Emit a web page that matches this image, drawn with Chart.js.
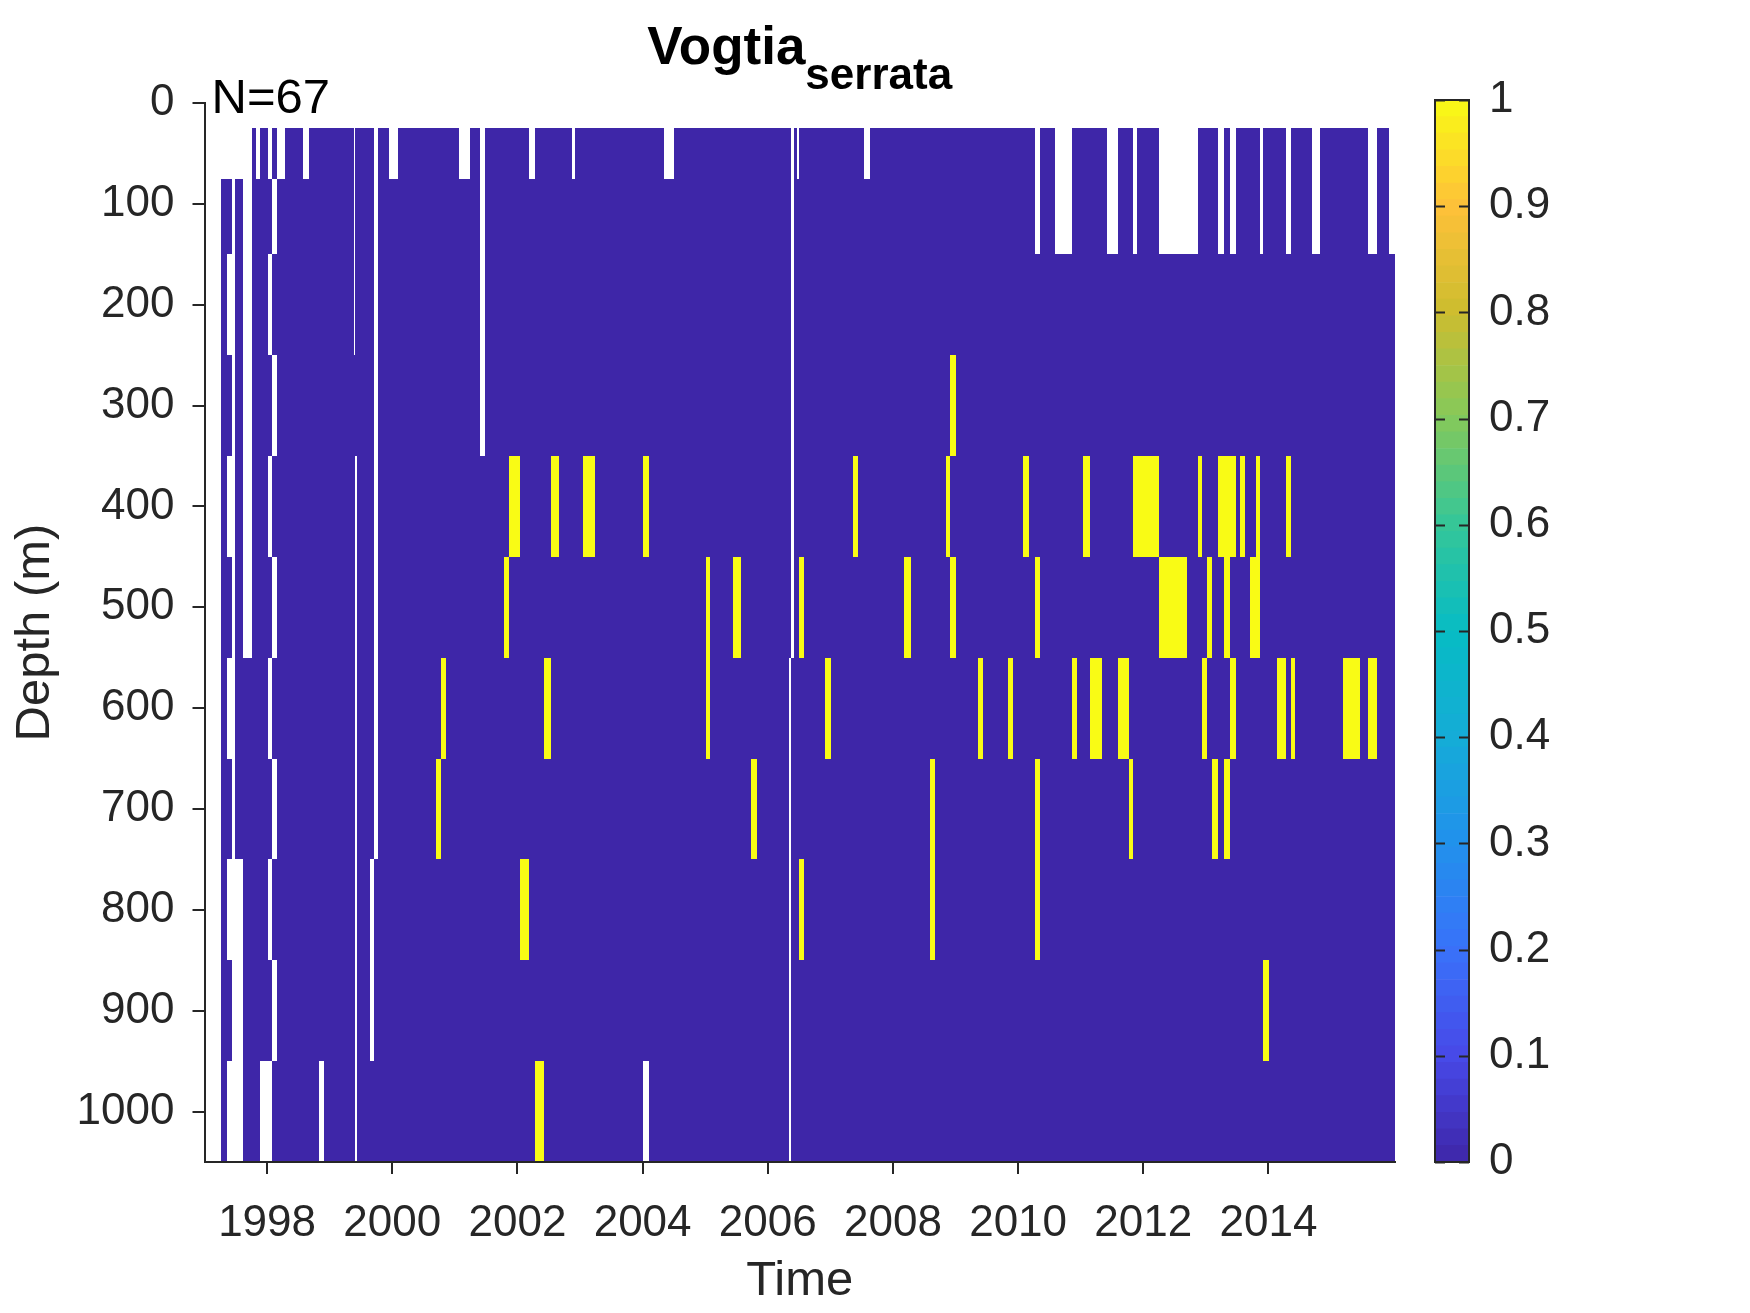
<!DOCTYPE html>
<html>
<head>
<meta charset="utf-8">
<title>Vogtia serrata</title>
<script src="https://cdn.jsdelivr.net/npm/chart.js@4.4.1/dist/chart.umd.min.js"></script>
<style>
  html, body { margin: 0; padding: 0; background: #fff; }
  #wrap { position: relative; width: 1750px; height: 1313px; }
  #wrap canvas { position: absolute; left: 0; top: 0; }
</style>
</head>
<body>
<div id="wrap">
  <canvas id="mainChart" width="1750" height="1313"></canvas>
  <canvas id="barChart" width="1750" height="1313"></canvas>
</div>
<script>
(function () {
  "use strict";

  // ---- data ----
  const sampleCount = 67;
  const depthEdges  = [25, 75, 150, 250, 350, 450, 550, 650, 750, 850, 950, 1050];
  const depthTicks  = [0, 100, 200, 300, 400, 500, 600, 700, 800, 900, 1000];
  const timeTicks   = [1998, 2000, 2002, 2004, 2006, 2008, 2010, 2012, 2014];
  const colourTicks = [0, 0.1, 0.2, 0.3, 0.4, 0.5, 0.6, 0.7, 0.8, 0.9, 1];
  const timeMin = 1997, timeMax = 2016.022;

  // early casts: one char per depth bin, "0" sampled, "." not sampled
  const earlyStart = [1997.271, 1997.361, 1997.494, 1997.617, 1997.760, 1997.824, 1997.894, 1998.016, 1998.080, 1998.160];
  const earlyEnd   = [1997.361, 1997.441, 1997.617, 1997.760, 1997.824, 1997.894, 1998.016, 1998.080, 1998.160, 1998.293];
  const earlyMask  = [".0000000000", ".0.0.0.0.0.", ".0000000...", "......00000", "00000000000",
                      ".0000000000", "0000000000.", ".0.0.0.0.0.", "0.0.0.0.0.0", ".0000000000"];

  // continuous sampling from late 1998, with unsampled gaps
  const seriesStart = 1998.293, seriesEnd = 2016.022;
  const gapStart  = [1998.575, 1998.825, 1999.385, 1999.411, 1999.651, 1999.704, 1999.954, 2001.062, 2001.397, 2002.180,
                     2002.872, 2004.005, 2004.346, 2006.343, 2006.375, 2006.465, 2007.541, 2010.272, 2010.592, 2011.428,
                     2011.843, 2012.252, 2013.200, 2013.386, 2013.865, 2014.280, 2014.701, 2015.596, 2015.926];
  const gapEnd    = [1998.666, 1998.916, 1999.411, 1999.438, 1999.704, 1999.768, 2000.087, 2001.248, 2001.488, 2002.287,
                     2002.925, 2004.096, 2004.495, 2006.375, 2006.412, 2006.502, 2007.637, 2010.352, 2010.869, 2011.598,
                     2011.901, 2012.880, 2013.290, 2013.482, 2013.918, 2014.360, 2014.824, 2015.740, 2016.022];
  const gapTop    = [25, 950, 25, 350, 750, 25, 25, 25, 25, 25,
                     25, 950, 25, 550, 25, 25, 25, 25, 25, 25,
                     25, 25, 25, 25, 25, 25, 25, 25, 25];
  const gapBottom = [75, 1050, 250, 1050, 950, 750, 75, 75, 350, 75,
                     75, 1050, 75, 1050, 550, 75, 75, 150, 150, 150,
                     150, 150, 150, 150, 150, 150, 150, 150, 150];

  // presence (value 1)
  const hitStart  = [2000.705, 2000.785, 2001.791, 2001.861, 2002.047, 2002.287, 2002.420, 2002.537, 2003.047, 2004.005,
                     2005.017, 2005.443, 2005.736, 2006.502, 2006.502, 2006.918, 2007.360, 2008.179, 2008.595, 2008.850,
                     2008.914, 2008.914, 2009.356, 2009.841, 2010.075, 2010.272, 2010.272, 2010.869, 2011.033, 2011.151,
                     2011.598, 2011.774, 2011.843, 2012.252, 2012.880, 2012.944, 2013.024, 2013.104, 2013.200, 2013.290,
                     2013.290, 2013.386, 2013.546, 2013.706, 2013.801, 2013.918, 2014.142, 2014.280, 2014.360, 2015.196,
                     2015.596];
  const hitEnd    = [2000.785, 2000.865, 2001.861, 2002.047, 2002.180, 2002.420, 2002.537, 2002.659, 2003.244, 2004.096,
                     2005.081, 2005.576, 2005.826, 2006.572, 2006.572, 2007.014, 2007.434, 2008.291, 2008.675, 2008.914,
                     2009.010, 2009.010, 2009.436, 2009.926, 2010.176, 2010.352, 2010.352, 2010.938, 2011.151, 2011.342,
                     2011.774, 2011.833, 2012.252, 2012.694, 2012.944, 2013.024, 2013.104, 2013.200, 2013.482, 2013.386,
                     2013.386, 2013.482, 2013.626, 2013.865, 2013.865, 2014.009, 2014.280, 2014.360, 2014.424, 2015.463,
                     2015.740];
  const hitTop    = [650, 550, 450, 350, 750, 950, 550, 350, 350, 350,
                     450, 450, 650, 450, 750, 550, 350, 450, 650, 350,
                     250, 450, 550, 550, 350, 450, 650, 550, 350, 550,
                     550, 650, 350, 450, 350, 550, 450, 650, 350, 450,
                     650, 550, 350, 450, 350, 850, 550, 350, 550, 550,
                     550];
  const hitBottom = [750, 650, 550, 450, 850, 1050, 650, 450, 450, 450,
                     650, 550, 750, 550, 850, 650, 450, 550, 850, 450,
                     350, 550, 650, 650, 450, 550, 850, 650, 450, 650,
                     650, 750, 450, 550, 450, 650, 550, 750, 450, 550,
                     750, 650, 450, 550, 450, 950, 650, 450, 650, 650,
                     650];

  // ---- styling ----
  const AXIS = "#262626";
  const FONT = "'Liberation Sans', Arial, Helvetica, sans-serif";
  Chart.defaults.font.family = FONT;

  const parulaStops = [
    [62, 38, 168], [71, 73, 232], [57, 114, 249], [33, 145, 236], [21, 172, 215], [7, 188, 196],
    [53, 198, 152], [132, 201, 91], [205, 189, 47], [254, 193, 57], [249, 251, 21]
  ];
  function parula(v) {
    const p = Math.max(0, Math.min(1, v)) * (parulaStops.length - 1);
    const i = Math.min(Math.floor(p), parulaStops.length - 2);
    const f = p - i;
    const a = parulaStops[i], b = parulaStops[i + 1];
    const c = a.map((ch, k) => Math.round(ch + (b[k] - ch) * f));
    return "rgb(" + c.join(",") + ")";
  }

  // ---- build the gridded field: NaN (skip), 0 or 1 ----
  function buildCells() {
    const all = [seriesStart, seriesEnd].concat(earlyStart, earlyEnd, gapStart, gapEnd, hitStart, hitEnd);
    const edges = Array.from(new Set(all.map(v => Math.round(v * 1e6) / 1e6))).sort((a, b) => a - b);
    const cells = [];
    for (let i = 0; i < edges.length - 1; i++) {
      const t0 = edges[i], t1 = edges[i + 1], tm = (t0 + t1) / 2;
      for (let r = 0; r < depthEdges.length - 1; r++) {
        const d0 = depthEdges[r], d1 = depthEdges[r + 1], dm = (d0 + d1) / 2;
        let sampled = false;
        for (let k = 0; k < earlyStart.length; k++) {
          if (tm >= earlyStart[k] && tm < earlyEnd[k]) sampled = earlyMask[k][r] === "0";
        }
        if (tm >= seriesStart && tm < seriesEnd) {
          sampled = true;
          for (let g = 0; g < gapStart.length; g++) {
            if (tm >= gapStart[g] && tm < gapEnd[g] && dm > gapTop[g] && dm < gapBottom[g]) sampled = false;
          }
        }
        if (!sampled) continue;
        let v = 0;
        for (let h = 0; h < hitStart.length; h++) {
          if (tm >= hitStart[h] && tm < hitEnd[h] && dm > hitTop[h] && dm < hitBottom[h]) v = 1;
        }
        cells.push({ t0, t1, d0, d1, v });
      }
    }
    return cells;
  }
  const cells = buildCells();

  const heatmapPlugin = {
    id: "heatmap",
    beforeDraw(chart) {
      const { ctx, scales: { x, y } } = chart;
      ctx.save();
      cells.forEach(c => {
        const x0 = Math.round(x.getPixelForValue(c.t0));
        const x1 = Math.round(x.getPixelForValue(c.t1));
        const y0 = Math.round(y.getPixelForValue(c.d0));
        const y1 = Math.round(y.getPixelForValue(c.d1));
        if (x1 <= x0) return;
        ctx.fillStyle = parula(c.v);
        ctx.fillRect(x0, y0, x1 - x0, y1 - y0);
      });
      ctx.restore();
    }
  };

  const labelPlugin = {
    id: "labels",
    afterDraw(chart) {
      const { ctx, chartArea } = chart;
      ctx.save();
      ctx.fillStyle = "#000";
      ctx.textBaseline = "alphabetic";
      ctx.textAlign = "left";
      const main = "Vogtia", sub = "serrata";
      ctx.font = "bold 53px " + FONT;
      const w1 = ctx.measureText(main).width;
      ctx.font = "bold 44px " + FONT;
      const w2 = ctx.measureText(sub).width;
      const left = (chartArea.left + chartArea.right) / 2 - (w1 + w2) / 2;
      ctx.font = "bold 53px " + FONT;
      ctx.fillText(main, left, 64);
      ctx.font = "bold 44px " + FONT;
      ctx.fillText(sub, left + w1, 89);
      ctx.font = "49px " + FONT;
      ctx.fillText("N=" + sampleCount, chartArea.left + 7, chartArea.top + 10);
      ctx.restore();
    }
  };

  new Chart(document.getElementById("mainChart"), {
    type: "scatter",
    data: { datasets: [{ data: [] }] },
    options: {
      responsive: false,
      animation: false,
      devicePixelRatio: 1,
      layout: { padding: { left: 0, top: 103, right: 355, bottom: 0 } },
      plugins: { legend: { display: false }, tooltip: { enabled: false } },
      scales: {
        x: {
          type: "linear", min: timeMin, max: timeMax,
          afterBuildTicks: s => { s.ticks = timeTicks.map(v => ({ value: v })); },
          afterFit: s => { s.height = 151; },
          grid: { drawOnChartArea: false, color: AXIS, lineWidth: 2, tickLength: 12 },
          border: { color: AXIS, width: 2 },
          ticks: { color: AXIS, font: { size: 44 }, padding: 23, maxRotation: 0, autoSkip: false, callback: v => String(v) },
          title: { display: true, text: "Time", color: AXIS, font: { size: 49 }, padding: { top: 0, bottom: 2 } }
        },
        y: {
          type: "linear", reverse: true, min: 0, max: 1050,
          afterBuildTicks: s => { s.ticks = depthTicks.map(v => ({ value: v })); },
          afterFit: s => { s.width = 204.5; },
          grid: { drawOnChartArea: false, color: AXIS, lineWidth: 2, tickLength: 12 },
          border: { color: AXIS, width: 2 },
          ticks: { color: AXIS, font: { size: 44 }, padding: 18, autoSkip: false, callback: v => String(v) },
          title: { display: true, text: "Depth (m)", color: AXIS, font: { size: 49 }, padding: { top: 6, bottom: 0 } }
        }
      }
    },
    plugins: [heatmapPlugin, labelPlugin]
  });

  // ---- colour bar ----
  const levelCount = 64;
  const bands = [];
  for (let k = 0; k < levelCount; k++) {
    bands.push({
      label: "level " + k,
      data: [1 / levelCount],
      backgroundColor: parula((k + 0.5) / levelCount),
      borderWidth: 0,
      barPercentage: 1,
      categoryPercentage: 1
    });
  }

  const frameplugin = {
    id: "cbFrame",
    afterDatasetsDraw(chart) {
      const { ctx, chartArea: a, scales: { y } } = chart;
      ctx.save();
      ctx.strokeStyle = AXIS;
      ctx.lineWidth = 2;
      ctx.strokeRect(a.left, a.top, a.right - a.left, a.bottom - a.top);
      colourTicks.forEach(v => {
        const py = Math.round(y.getPixelForValue(v)) + 0.5;
        ctx.beginPath();
        ctx.moveTo(a.left, py); ctx.lineTo(a.left + 10, py);
        ctx.moveTo(a.right - 10, py); ctx.lineTo(a.right, py);
        ctx.stroke();
      });
      ctx.restore();
    }
  };

  new Chart(document.getElementById("barChart"), {
    type: "bar",
    data: { labels: ["colour"], datasets: bands },
    options: {
      responsive: false,
      animation: false,
      devicePixelRatio: 1,
      layout: { padding: { left: 1435, top: 100, right: 0, bottom: 151 } },
      plugins: { legend: { display: false }, tooltip: { enabled: false } },
      scales: {
        x: { display: false, stacked: true },
        y: {
          position: "right", stacked: true, min: 0, max: 1,
          afterBuildTicks: s => { s.ticks = colourTicks.map(v => ({ value: v })); },
          afterFit: s => { s.width = 1750 - 1469; },
          grid: { display: false, drawTicks: false },
          border: { display: false },
          ticks: { color: AXIS, font: { size: 44 }, padding: 20, autoSkip: false, callback: v => String(v) }
        }
      }
    },
    plugins: [frameplugin]
  });
})();
</script>
</body>
</html>
